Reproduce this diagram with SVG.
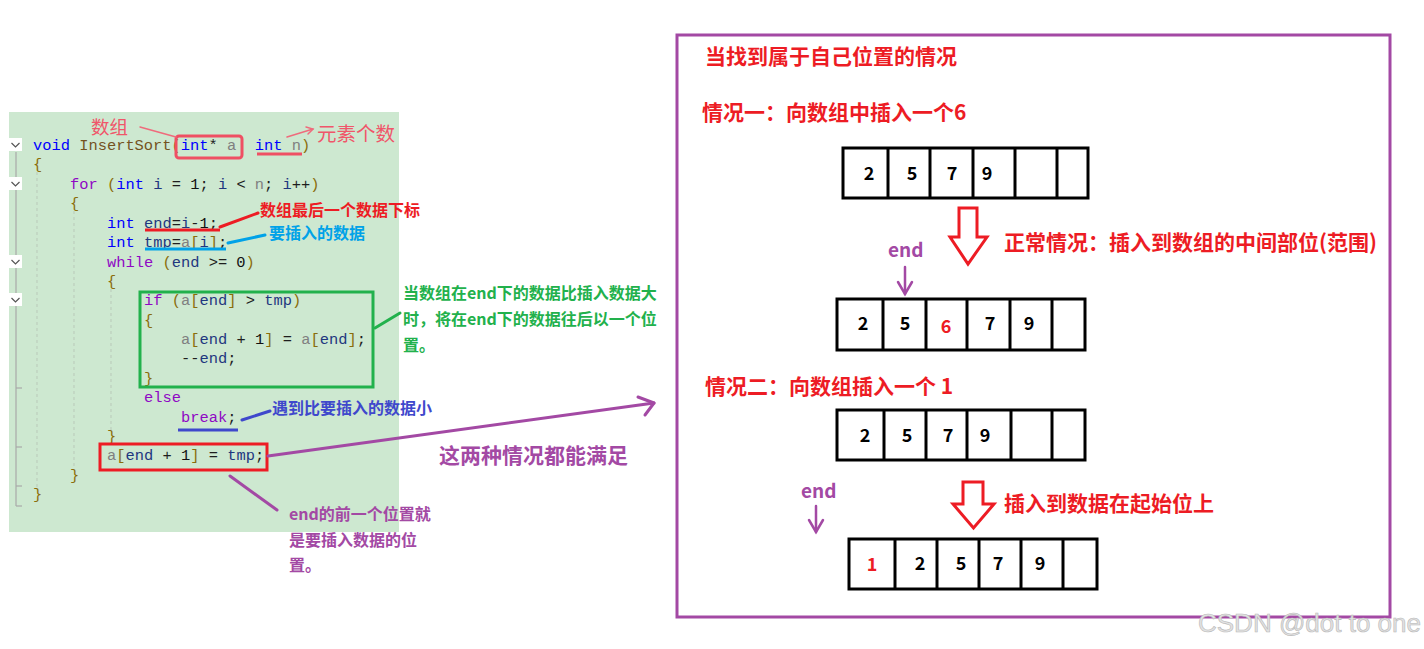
<svg xmlns="http://www.w3.org/2000/svg" width="1424" height="649" viewBox="0 0 1424 649">
<style>
.code{font-family:"Liberation Mono","DejaVu Sans Mono",monospace;font-size:15.4px;fill:#1e1e1e}
.kw{fill:#0000ff}.ct{fill:#8f08c4}.fn{fill:#74531f}.pa{fill:#808080}.v{fill:#1f377f}.br{fill:#8a6d0b}.num{fill:#111}
.cjk{font-family:"Noto Sans CJK SC","Noto Sans",sans-serif;font-weight:bold}
.cjkn{font-family:"Noto Sans CJK SC","Noto Sans",sans-serif;font-weight:normal}
.red{fill:#ed1c24}.green{fill:#22b14c}.purple{fill:#a349a4}.blue{fill:#00a2e8}.dblue{fill:#3f48cc}.pink{fill:#f0566a}
.cell{fill:#fff;stroke:#000;stroke-width:3}
.dig{font-family:"Noto Sans CJK SC","Noto Sans",sans-serif;font-weight:bold;font-size:18px;fill:#000;text-anchor:middle}
.guide{stroke:#b9c9b9;stroke-width:1;stroke-dasharray:3 3}
.chev{fill:none;stroke:#555;stroke-width:1.2}
.hollow{fill:#fff;stroke:#ed1c24;stroke-width:3;stroke-linejoin:miter}
</style>

<!-- Code panel -->
<g id="code-panel">
  <rect x="9" y="112" width="390" height="420" fill="#cde8d0"/>
  <line x1="16" y1="152" x2="16" y2="506" stroke="#a8a8a8" stroke-width="1.2"/>
  <g stroke="#a8a8a8" stroke-width="1.2">
    <line x1="16" y1="388" x2="22" y2="388"/>
    <line x1="16" y1="447" x2="22" y2="447"/>
    <line x1="16" y1="486" x2="22" y2="486"/>
    <line x1="16" y1="506" x2="22" y2="506"/>
  </g>
  <g>
    <rect x="9" y="138" width="13" height="13" fill="#fff"/>
    <polyline class="chev" points="11.5,143 15.5,147 19.5,143"/>
    <rect x="9" y="177" width="13" height="13" fill="#fff"/>
    <polyline class="chev" points="11.5,182 15.5,186 19.5,182"/>
    <rect x="9" y="255" width="13" height="13" fill="#fff"/>
    <polyline class="chev" points="11.5,260 15.5,264 19.5,260"/>
    <rect x="9" y="293" width="13" height="13" fill="#fff"/>
    <polyline class="chev" points="11.5,298 15.5,302 19.5,298"/>
  </g>
  <line class="guide" x1="37" y1="172" x2="37" y2="488"/>
  <line class="guide" x1="74" y1="211" x2="74" y2="468"/>
  <line class="guide" x1="111" y1="289" x2="111" y2="430"/>

  <text class="code" x="33" y="150" xml:space="preserve"><tspan class="kw">void</tspan> <tspan class="fn">InsertSort</tspan><tspan class="br">(</tspan><tspan class="kw">int</tspan>* <tspan class="pa">a</tspan>  <tspan class="kw">int</tspan> <tspan class="pa">n</tspan><tspan class="br">)</tspan></text>
  <text class="code br" x="33" y="169">{</text>
  <text class="code" x="70" y="189" xml:space="preserve"><tspan class="ct">for</tspan> <tspan class="br">(</tspan><tspan class="kw">int</tspan> <tspan class="v">i</tspan> = <tspan class="num">1</tspan>; <tspan class="v">i</tspan> &lt; <tspan class="pa">n</tspan>; <tspan class="v">i</tspan>++<tspan class="br">)</tspan></text>
  <text class="code br" x="70" y="208">{</text>
  <text class="code" x="107" y="228" xml:space="preserve"><tspan class="kw">int</tspan> <tspan class="v">end</tspan>=<tspan class="v">i</tspan>-<tspan class="num">1</tspan>;</text>
  <text class="code" x="107" y="247" xml:space="preserve"><tspan class="kw">int</tspan> <tspan class="v">tmp</tspan>=<tspan class="pa">a</tspan><tspan class="br">[</tspan><tspan class="v">i</tspan><tspan class="br">]</tspan>;</text>
  <text class="code" x="107" y="267" xml:space="preserve"><tspan class="ct">while</tspan> <tspan class="br">(</tspan><tspan class="v">end</tspan> &gt;= <tspan class="num">0</tspan><tspan class="br">)</tspan></text>
  <text class="code br" x="107" y="286">{</text>
  <text class="code" x="144" y="305" xml:space="preserve"><tspan class="ct">if</tspan> <tspan class="br">(</tspan><tspan class="pa">a</tspan><tspan class="br">[</tspan><tspan class="v">end</tspan><tspan class="br">]</tspan> &gt; <tspan class="v">tmp</tspan><tspan class="br">)</tspan></text>
  <text class="code br" x="144" y="325">{</text>
  <text class="code" x="181" y="344" xml:space="preserve"><tspan class="pa">a</tspan><tspan class="br">[</tspan><tspan class="v">end</tspan> + <tspan class="num">1</tspan><tspan class="br">]</tspan> = <tspan class="pa">a</tspan><tspan class="br">[</tspan><tspan class="v">end</tspan><tspan class="br">]</tspan>;</text>
  <text class="code" x="181" y="363" xml:space="preserve">--<tspan class="v">end</tspan>;</text>
  <text class="code br" x="144" y="383">}</text>
  <text class="code ct" x="144" y="402">else</text>
  <text class="code ct" x="181" y="422">break<tspan fill="#1e1e1e">;</tspan></text>
  <text class="code br" x="107" y="441">}</text>
  <text class="code" x="107" y="460" xml:space="preserve"><tspan class="pa">a</tspan><tspan class="br">[</tspan><tspan class="v">end</tspan> + <tspan class="num">1</tspan><tspan class="br">]</tspan> = <tspan class="v">tmp</tspan>;</text>
  <text class="code br" x="70" y="480">}</text>
  <text class="code br" x="33" y="499">}</text>
</g>

<g id="code-marks" fill="none">
  <rect x="176" y="136" width="66" height="22" rx="3" stroke="#ef4f63" stroke-width="3"/>
  <line x1="257" y1="154" x2="302" y2="154" stroke="#ef4f63" stroke-width="3"/>
  <line x1="145" y1="230" x2="220" y2="230" stroke="#ed1c24" stroke-width="3"/>
  <line x1="145" y1="249" x2="226" y2="249" stroke="#00a2e8" stroke-width="3"/>
  <rect x="140" y="292" width="233" height="95" stroke="#22b14c" stroke-width="3"/>
  <line x1="178" y1="430" x2="238" y2="430" stroke="#3f48cc" stroke-width="3"/>
  <rect x="100" y="444" width="167" height="26" stroke="#ed1c24" stroke-width="3"/>
</g>

<g id="connectors" fill="none" stroke-linecap="round">
  <line x1="140" y1="127" x2="176" y2="137" stroke="#ef6b7c" stroke-width="1.5"/>
  <line x1="287" y1="137" x2="313" y2="129" stroke="#ef6b7c" stroke-width="1.5"/>
  <polyline points="306,127 313,129 308,134" stroke="#ef6b7c" stroke-width="1.5"/>
  <line x1="220" y1="227" x2="258" y2="213" stroke="#ed1c24" stroke-width="3"/>
  <line x1="228" y1="243" x2="265" y2="235" stroke="#00a2e8" stroke-width="3"/>
  <line x1="375" y1="328" x2="400" y2="313" stroke="#22b14c" stroke-width="3"/>
  <line x1="242" y1="420" x2="270" y2="411" stroke="#3f48cc" stroke-width="3"/>
  <line x1="268" y1="456" x2="654" y2="403" stroke="#a349a4" stroke-width="3"/>
  <polyline points="638,397 654,403 645,415" stroke="#a349a4" stroke-width="3" stroke-linejoin="round"/>
  <line x1="230" y1="476" x2="277" y2="510" stroke="#a349a4" stroke-width="3"/>
  <line x1="905" y1="267" x2="905" y2="294" stroke="#a349a4" stroke-width="2.5"/>
  <polyline points="898,282 905,294 912,282" stroke="#a349a4" stroke-width="2.5"/>
  <line x1="816" y1="506" x2="816" y2="532" stroke="#a349a4" stroke-width="2.5"/>
  <polyline points="809,520 816,532 823,520" stroke="#a349a4" stroke-width="2.5"/>
</g>

<g id="left-labels">
  <text class="cjkn pink" x="91" y="134" font-size="18.5">数组</text>
  <text class="cjkn pink" x="317" y="141" font-size="19.5">元素个数</text>
  <text class="cjk red" x="260" y="216" font-size="16">数组最后一个数据下标</text>
  <text class="cjk blue" x="269" y="239" font-size="16">要插入的数据</text>
  <text class="cjk green" font-size="16"><tspan x="403" y="299">当数组在end下的数据比插入数据大</tspan><tspan x="403" y="325">时，将在end下的数据往后以一个位</tspan><tspan x="403" y="351">置。</tspan></text>
  <text class="cjk dblue" x="272" y="414" font-size="16">遇到比要插入的数据小</text>
  <text class="cjk purple" x="439" y="463" font-size="21">这两种情况都能满足</text>
  <text class="cjk purple" font-size="16"><tspan x="289" y="520">end的前一个位置就</tspan><tspan x="289" y="546">是要插入数据的位</tspan><tspan x="289" y="571">置。</tspan></text>
</g>

<g id="right-panel">
  <rect x="677" y="35" width="713" height="582" fill="none" stroke="#a349a4" stroke-width="3"/>
  <text class="cjk red" x="705" y="64" font-size="21">当找到属于自己位置的情况</text>
  <text class="cjk red" x="702" y="120" font-size="21">情况一：向数组中插入一个6</text>
  <text class="cjk red" x="1004" y="250" font-size="21">正常情况：插入到数组的中间部位(范围)</text>
  <text class="cjk red" x="705" y="394" font-size="21">情况二：向数组插入一个 1</text>
  <text class="cjk red" x="1004" y="511" font-size="21">插入到数据在起始位上</text>
  <text class="cjk purple" x="888" y="257" font-size="19">end</text>
  <text class="cjk purple" x="801" y="498" font-size="19">end</text>
  <path class="hollow" d="M959,208 H977 V237 H987 L968,264 L950,237 H959 Z"/>
  <path class="hollow" d="M963,482 H983 V504 H994 L973.5,528 L953,504 H963 Z"/>
</g>

<g id="array-1">
  <rect class="cell" x="843" y="148" width="245" height="50"/>
  <g stroke="#000" stroke-width="3">
    <line x1="888" y1="148" x2="888" y2="198"/><line x1="930" y1="148" x2="930" y2="198"/>
    <line x1="973" y1="148" x2="973" y2="198"/><line x1="1015" y1="148" x2="1015" y2="198"/>
    <line x1="1057" y1="148" x2="1057" y2="198"/>
  </g>
  <text class="dig" x="869" y="180">2</text><text class="dig" x="912" y="180">5</text>
  <text class="dig" x="952" y="180">7</text><text class="dig" x="987" y="180">9</text>
</g>

<g id="array-2">
  <rect class="cell" x="837" y="299" width="248" height="51"/>
  <g stroke="#000" stroke-width="3">
    <line x1="883" y1="299" x2="883" y2="350"/><line x1="926" y1="299" x2="926" y2="350"/>
    <line x1="967" y1="299" x2="967" y2="350"/><line x1="1010" y1="299" x2="1010" y2="350"/>
    <line x1="1052" y1="299" x2="1052" y2="350"/>
  </g>
  <text class="dig" x="863" y="330">2</text><text class="dig" x="905" y="330">5</text>
  <text class="dig" x="946" y="333" style="fill:#ed1c24">6</text>
  <text class="dig" x="990" y="330">7</text><text class="dig" x="1029" y="330">9</text>
</g>

<g id="array-3">
  <rect class="cell" x="837" y="410" width="248" height="50"/>
  <g stroke="#000" stroke-width="3">
    <line x1="884" y1="410" x2="884" y2="460"/><line x1="926" y1="410" x2="926" y2="460"/>
    <line x1="967" y1="410" x2="967" y2="460"/><line x1="1011" y1="410" x2="1011" y2="460"/>
    <line x1="1052" y1="410" x2="1052" y2="460"/>
  </g>
  <text class="dig" x="865" y="442">2</text><text class="dig" x="907" y="442">5</text>
  <text class="dig" x="948" y="442">7</text><text class="dig" x="985" y="442">9</text>
</g>

<g id="array-4">
  <rect class="cell" x="849" y="539" width="248" height="50"/>
  <g stroke="#000" stroke-width="3">
    <line x1="895" y1="539" x2="895" y2="589"/><line x1="937" y1="539" x2="937" y2="589"/>
    <line x1="979" y1="539" x2="979" y2="589"/><line x1="1021" y1="539" x2="1021" y2="589"/>
    <line x1="1063" y1="539" x2="1063" y2="589"/>
  </g>
  <text class="dig" x="872" y="571" style="fill:#ed1c24">1</text>
  <text class="dig" x="920" y="570">2</text><text class="dig" x="961" y="570">5</text>
  <text class="dig" x="998" y="570">7</text><text class="dig" x="1040" y="570">9</text>
</g>

<g id="watermark">
  <text x="1198" y="632" font-family="'Liberation Sans',Arial,sans-serif" font-size="26" fill="#e2e2e2" stroke="#b8b8b8" stroke-width="0.6">CSDN @dot to one</text>
</g>
</svg>
